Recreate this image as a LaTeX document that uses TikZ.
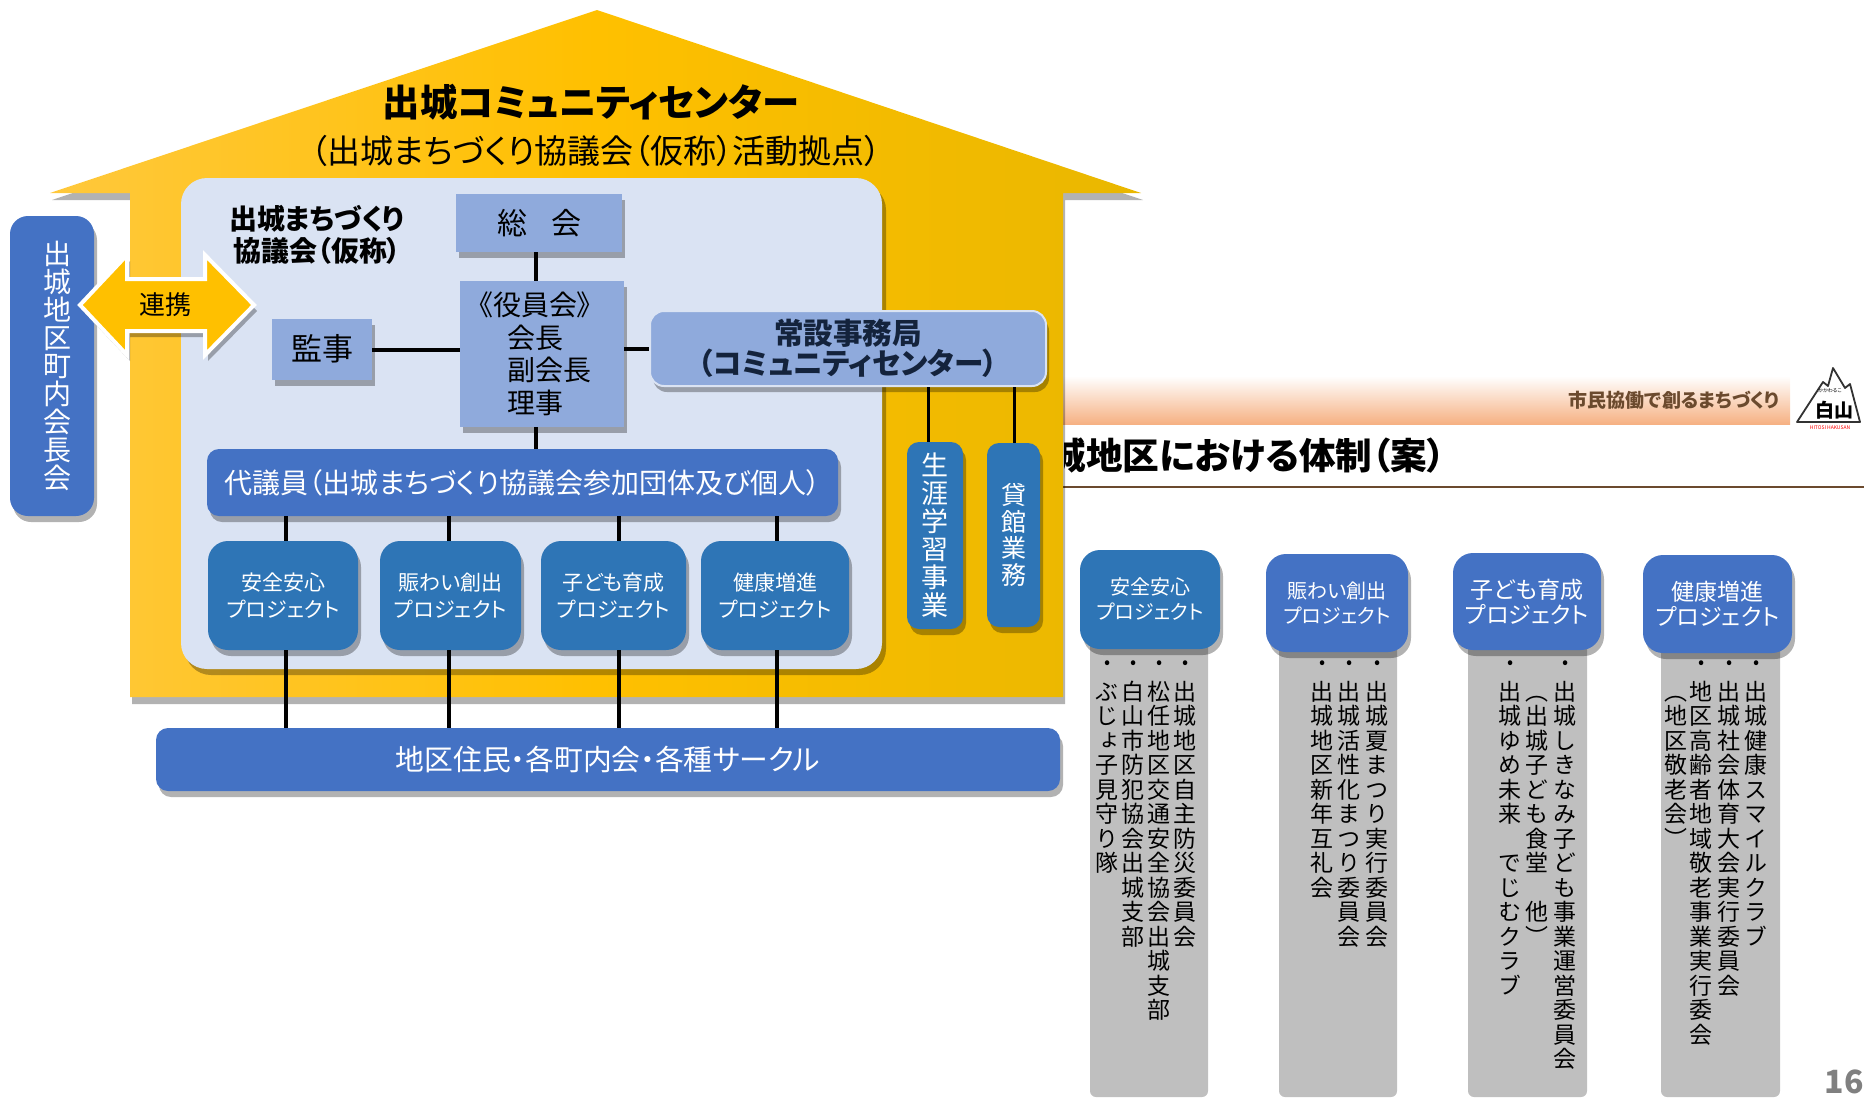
\documentclass[tikz,border=0pt]{standalone}
\usepackage{fontspec}
\setmainfont[RawFeature=+palt]{Noto Sans CJK JP}
\newfontfamily\vertfont[RawFeature=+vert]{Noto Sans CJK JP}
\usetikzlibrary{shadows,shadings}
\definecolor{roofLight}{HTML}{FFC83C}
\definecolor{roofMid}{HTML}{FFC000}
\definecolor{roofDark}{HTML}{E9B700}
\definecolor{panelBlue}{HTML}{DAE3F3}
\definecolor{paleBlue}{HTML}{8FAADC}
\definecolor{midBlue}{HTML}{4472C4}
\definecolor{deepBlue}{HTML}{2E75B6}
\definecolor{listGray}{HTML}{BFBFBF}
\definecolor{bandOrange}{HTML}{F6B183}
\definecolor{ruleBrown}{HTML}{6B4A2E}
\definecolor{officeInk}{HTML}{14233C}
\tikzset{
    softshadow/.style={drop shadow={shadow xshift=1.5pt,shadow yshift=-3pt,fill=black,opacity=.3}},
    flatbox/.style={fill=paleBlue,inner sep=0pt,softshadow},
    officebox/.style={fill=paleBlue,draw=panelBlue,line width=1pt,rounded corners=7pt,inner sep=0pt,text=officeInk,softshadow},
    bluebox/.style={fill=midBlue,text=white,rounded corners=6pt,inner sep=0pt,softshadow},
    projbox/.style={fill=deepBlue,text=white,rounded corners=10pt,inner sep=0pt,softshadow},
    listbox/.style={fill=listGray,rounded corners=3pt,inner sep=0pt},
    link/.style={line width=2pt,black},
    thinlink/.style={line width=1.5pt,black},
    plain/.style={inner sep=0pt},
}
% box from its corners: name, x1, y1, x2, y2, style, text
\newcommand{\drawBox}[7]{
    \node[align=center,#6,minimum width={(#4-#2)*.5pt},minimum height={(#5-#3)*.5pt}]
        (#1) at ({(#2+#4)/2},{(#3+#5)/2}) {#7};
}
% characters set one under the other: pitch in pt, then the characters
\makeatletter
\newcommand{\vtext}[2]{\vbox{\offinterlineskip\vertfont\@tfor\vchar:=#2\do{%
    \hbox to 1.2em{\vrule height \dimexpr#1pt/2+.38em\relax depth \dimexpr#1pt/2-.38em\relax width 0pt\hss\smash{\vchar}\hss}}}}
\makeatother
% one column of a list: name, x, bullet or not, characters
\newcommand{\drawColumn}[4]{
    \node[plain,anchor=north,font=\fontsize{11.5}{11.5}\selectfont] (#1) at (#2,679) {\vtext{12.25}{#4}};
    \ifx#3y\node[plain] (#1dot) at (#2+1,665) {\fontsize{9}{9}\selectfont •};\fi
}
\begin{document}
\begin{tikzpicture}[x=.5pt,y=-.5pt]
\useasboundingbox (0,0) rectangle (1864,1098);
\clip (0,0) rectangle (1864,1098);

% Slide behind the house
\shade[top color=white,bottom color=bandOrange] (1000,376) rectangle (1790,424);
\node[plain,anchor=east,text=ruleBrown,font=\fontsize{9.5}{9.5}\selectfont\bfseries] (motto) at (1780,400) {市民協働で創るまちづくり};
\begin{scope}
\clip (1064,420) rectangle (1864,482);
\node[plain,anchor=west,font=\fontsize{18.3}{18.3}\selectfont\bfseries] (heading) at (1049,456) {城地区における体制（案）};
\end{scope}
\draw[ruleBrown,line width=1.2pt] (1000,487) -- (1864,487);

% Logo
\draw[line width=.9pt,black!80,fill=white,line join=round] (1797,422) -- (1823,382) -- (1828,386) -- (1833,368)
    -- (1845,388) -- (1850,384) -- (1860,422) -- cycle;
\node[plain,font=\fontsize{9.5}{9.5}\selectfont\bfseries] (logoname) at (1834,410) {白山};
\node[plain,text=red,font=\fontsize{2.5}{3}\selectfont] (logosub) at (1830,428) {HITOSI HAKUSAN};
\node[plain,font=\fontsize{2.5}{3}\selectfont] (logotop) at (1830,391) {かかわるこ};

% House
\shade[left color=roofLight,right color=roofDark,middle color=roofMid,
    drop shadow={shadow xshift=1pt,shadow yshift=-3.5pt,fill=black,opacity=.3}]
    (597,10) -- (1141,193) -- (1063,193) -- (1063,697) -- (130,697) -- (130,193) -- (50,193) -- cycle;
\fill[panelBlue,rounded corners=13pt,drop shadow={shadow xshift=2pt,shadow yshift=-3pt,fill=black,opacity=.3}]
    (181,178) rectangle (882,669);
\node[plain,font=\fontsize{18.7}{18.7}\selectfont\bfseries] (center) at (591,102) {出城コミュニティセンター};
\node[plain,font=\fontsize{16.5}{16.5}\selectfont] (centersub) at (596,151) {（出城まちづくり協議会（仮称）活動拠点）};
\node[plain,align=center,font=\fontsize{14}{16}\selectfont\bfseries] (council) at (317,235) {出城まちづくり\\協議会（仮称）};

% Council boxes
\drawBox{general}{456}{194}{622}{252}{flatbox,font=\fontsize{15}{15}\selectfont}{総\hspace{.8em}会}
\drawBox{board}{460}{281}{624}{427}{flatbox,align=left,font=\fontsize{14}{16.3}\selectfont}{《役員会》\hspace*{7pt}\\\hspace*{14pt}会長\\\hspace*{14pt}副会長\\\hspace*{14pt}理事}
\drawBox{auditor}{272}{319}{372}{380}{flatbox,font=\fontsize{15.5}{15.5}\selectfont}{\raisebox{2pt}{監事}}
\drawBox{office}{650}{311}{1046}{386}{officebox,font=\fontsize{14.8}{13.2}\selectfont\bfseries}{常設事務局\\（コミュニティセンター）}
\drawBox{delegates}{207}{449}{838}{516}{bluebox,font=\fontsize{14}{14}\selectfont}{代議員（出城まちづくり協議会参加団体及び個人）}
\drawBox{safety}{208}{541}{358}{650}{projbox,font=\fontsize{10.5}{13.7}\selectfont}{安全安心\\プロジェクト}
\drawBox{lively}{380}{541}{521}{650}{projbox,font=\fontsize{10.5}{13.7}\selectfont}{賑わい創出\\プロジェクト}
\drawBox{child}{541}{541}{686}{650}{projbox,font=\fontsize{10.5}{13.7}\selectfont}{子ども育成\\プロジェクト}
\drawBox{health}{701}{541}{849}{650}{projbox,font=\fontsize{10.5}{13.7}\selectfont}{健康増進\\プロジェクト}
\drawBox{residents}{156}{728}{1060}{791}{bluebox,font=\fontsize{14.4}{14.4}\selectfont}{地区住民・各町内会・各種サークル}
\drawBox{lifelong}{907}{442}{963}{629}{projbox,rounded corners=6pt,font=\fontsize{13.5}{13.5}\selectfont}{\vtext{14}{生涯学習事業}}
\drawBox{rental}{987}{443}{1040}{627}{projbox,rounded corners=6pt,font=\fontsize{12.5}{12.5}\selectfont}{\vtext{13.3}{貸館業務}}
\drawBox{chairs}{10}{216}{94}{516}{bluebox,rounded corners=9pt,font=\fontsize{14}{14}\selectfont}{\hspace*{5pt}\vtext{14}{出城地区町内会長会}}

% Linked arrow
\filldraw[fill=roofMid,draw=white,line width=2pt,softshadow]
    (80,305) -- (127,255) -- (127,279) -- (205,279) -- (205,255) -- (254,305)
    -- (205,355) -- (205,331) -- (127,331) -- (127,355) -- cycle;
\node[plain,font=\fontsize{13}{13}\selectfont] (linked) at (165,305) {連携};

% Connectors
\coordinate (spine) at (536,0);
\draw[link] (general.south -| spine) -- (board.north -| spine);
\draw[link] (board.south -| spine) -- (delegates.north -| spine);
\draw[link] (auditor.east) -- (auditor.east -| board.west);
\draw[link] (board.east |- office.west) -- (office.west);
\foreach \proj/\x in {safety/286,lively/449,child/619,health/777}{
    \coordinate (drop) at (\x,0);
    \draw[link] (delegates.south -| drop) -- (\proj.north -| drop);
    \draw[link] (\proj.south -| drop) -- (residents.north -| drop);
}
\coordinate (dropA) at (928,0);
\coordinate (dropB) at (1014,0);
\draw[thinlink] (office.south -| dropA) -- (lifelong.north -| dropA);
\draw[thinlink] (office.south -| dropB) -- (rental.north -| dropB);

% Project lists
\drawBox{listA}{1090}{640}{1208}{1097}{listbox}{}
\drawBox{listB}{1279}{640}{1397}{1097}{listbox}{}
\drawBox{listC}{1468}{640}{1587}{1097}{listbox}{}
\drawBox{listD}{1661}{640}{1780}{1097}{listbox}{}
\drawBox{safetyB}{1080}{550}{1220}{649}{projbox,font=\fontsize{10}{12.5}\selectfont}{安全安心\\プロジェクト}
\drawBox{livelyB}{1266}{554}{1408}{652}{bluebox,rounded corners=10pt,font=\fontsize{10}{12.5}\selectfont}{賑わい創出\\プロジェクト}
\drawBox{childB}{1453}{553}{1601}{650}{bluebox,rounded corners=10pt,font=\fontsize{11.5}{12.5}\selectfont}{子ども育成\\プロジェクト}
\drawBox{healthB}{1643}{555}{1792}{653}{bluebox,rounded corners=10pt,font=\fontsize{11.5}{12.5}\selectfont}{健康増進\\プロジェクト}

\drawColumn{aOne}{1185}{y}{出城地区自主防災委員会}
\drawColumn{aTwo}{1159}{y}{松任地区交通安全協会出城支部}
\drawColumn{aThree}{1133}{y}{白山市防犯協会出城支部}
\drawColumn{aFour}{1107}{y}{ぶじょ子見守り隊}

\drawColumn{bOne}{1377}{y}{出城夏まつり実行委員会}
\drawColumn{bTwo}{1349}{y}{出城活性化まつり委員会}
\drawColumn{bThree}{1322}{y}{出城地区新年互礼会}

\drawColumn{cOne}{1565}{y}{出城しきなみ子ども事業運営委員会}
\drawColumn{cTwo}{1537}{n}{（出城子ども食堂~他）}
\drawColumn{cThree}{1510}{y}{出城ゆめ未来~でじむクラブ}

\drawColumn{dOne}{1756}{y}{出城健康スマイルクラブ}
\drawColumn{dTwo}{1729}{y}{出城社会体育大会実行委員会}
\drawColumn{dThree}{1701}{y}{地区高齢者地域敬老事業実行委会}
\drawColumn{dFour}{1676}{n}{（地区敬老会）}

\node[plain,anchor=east,text=gray,font=\fontsize{16}{16}\selectfont\bfseries] (page) at (1864,1082) {16};

\end{tikzpicture}
\end{document}
